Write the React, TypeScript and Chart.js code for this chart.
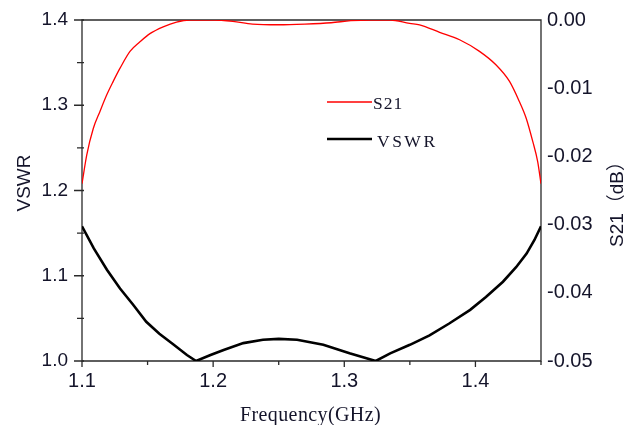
import React, { useEffect, useRef } from "react";
import { Chart, registerables } from "chart.js";

Chart.register(...registerables);

// ---- data ----
const vswrFreq = [
  1.100, 1.109, 1.119, 1.129, 1.139, 1.149, 1.159, 1.170, 1.180, 1.187,
  1.198, 1.208, 1.223, 1.238, 1.250, 1.264, 1.284, 1.304, 1.324,
  1.335, 1.350, 1.365, 1.380, 1.396, 1.408, 1.421, 1.431, 1.439, 1.445, 1.450,
];
const vswrValues = [
  1.158, 1.132, 1.107, 1.085, 1.066, 1.046, 1.032, 1.019, 1.007, 1.000,
  1.007, 1.013, 1.021, 1.025, 1.026, 1.025, 1.019, 1.009, 1.000,
  1.009, 1.019, 1.030, 1.044, 1.060, 1.075, 1.093, 1.110, 1.126, 1.142, 1.158,
];

const s21Freq = [
  1.100, 1.1036, 1.1086, 1.1137, 1.1188, 1.1238, 1.1289, 1.1366, 1.1442, 1.1518,
  1.1619, 1.1721, 1.182, 1.200, 1.215, 1.230, 1.250, 1.270, 1.290, 1.305,
  1.320, 1.335, 1.3498, 1.3574, 1.3727, 1.3879, 1.4031, 1.4158, 1.426, 1.4336,
  1.4387, 1.4437, 1.4475, 1.450,
];
const s21Values = [
  -0.0240, -0.0198, -0.0159, -0.0134, -0.0110, -0.0090, -0.0071, -0.0046, -0.0032, -0.0020,
  -0.0010, -0.0003, 0.0, 0.0, -0.0002, -0.0006, -0.0007, -0.0006, -0.0004, -0.0001,
  0.0, 0.0, -0.0005, -0.0007, -0.0018, -0.0029, -0.0046, -0.0066, -0.0090, -0.0120,
  -0.0144, -0.0178, -0.0208, -0.0240,
];

const xTickValues = [1.1, 1.2, 1.3, 1.4];
const xMinorTickValues = [1.15, 1.25, 1.35, 1.45];
const vswrTickValues = [1.0, 1.1, 1.2, 1.3, 1.4];
const vswrMinorTickValues = [1.05, 1.15, 1.25, 1.35];
const s21TickValues = [-0.05, -0.04, -0.03, -0.02, -0.01, 0.0];

const xTitle = "Frequency(GHz)";
const leftTitle = "VSWR";
const rightTitle = "S21（dB）";
const legendLabels = ["S21", "VSWR"];

const TEXT = "#14142a";
const AXIS = "#2a2a2a";
const SANS = "Arial, 'Liberation Sans', 'Noto Sans CJK SC', sans-serif";
const SERIF = "'Times New Roman', 'Liberation Serif', serif";

export default function App() {
  const ref = useRef<HTMLCanvasElement>(null);

  useEffect(() => {
    document.body.style.margin = "0";
    const canvas = ref.current!;
    const decor = {
      id: "decor",
      beforeDatasetsDraw(chart: any) {
        const c = chart.ctx as CanvasRenderingContext2D;
        const { left, right, top, bottom } = chart.chartArea;
        const xs = chart.scales.x;
        const yl = chart.scales.yL;
        c.save();
        c.strokeStyle = AXIS;
        c.lineWidth = 1.3;
        c.beginPath();
        c.rect(left, top, right - left, bottom - top);
        c.stroke();
        c.beginPath();
        vswrTickValues.forEach((v) => {
          const y = yl.getPixelForValue(v);
          c.moveTo(left - 8, y);
          c.lineTo(left + 2, y);
        });
        vswrMinorTickValues.forEach((v) => {
          const y = yl.getPixelForValue(v);
          c.moveTo(left - 5, y);
          c.lineTo(left + 2, y);
        });
        xTickValues.forEach((v) => {
          const x = xs.getPixelForValue(v);
          c.moveTo(x, bottom);
          c.lineTo(x, bottom + 6);
        });
        xMinorTickValues.forEach((v) => {
          const x = xs.getPixelForValue(v);
          c.moveTo(x, bottom);
          c.lineTo(x, bottom + 4);
        });
        c.stroke();
        c.restore();
      },
      afterDraw(chart: any) {
        const c = chart.ctx as CanvasRenderingContext2D;
        const { left, right } = chart.chartArea;
        c.save();
        c.fillStyle = TEXT;
        // x title
        c.font = `20px ${SERIF}`;
        (c as any).letterSpacing = "0.4px";
        c.textAlign = "center";
        c.textBaseline = "alphabetic";
        c.fillText(xTitle, (left + right) / 2 - 1, 421);
        (c as any).letterSpacing = "0px";
        // left title
        c.save();
        c.font = `19px ${SANS}`;
        c.translate(30, 183);
        c.rotate(-Math.PI / 2);
        c.textAlign = "center";
        c.textBaseline = "alphabetic";
        c.fillText(leftTitle, 0, 0);
        c.restore();
        // right title
        c.save();
        c.font = `19px ${SANS}`;
        c.translate(623, 247);
        c.rotate(-Math.PI / 2);
        c.textAlign = "left";
        c.textBaseline = "alphabetic";
        c.fillText(rightTitle, 0, 0);
        c.restore();
        // legend
        c.strokeStyle = "#ff0000";
        c.lineWidth = 1.3;
        c.beginPath();
        c.moveTo(327, 102);
        c.lineTo(372, 102);
        c.stroke();
        c.strokeStyle = "#000";
        c.lineWidth = 2.6;
        c.beginPath();
        c.moveTo(327, 139);
        c.lineTo(372, 139);
        c.stroke();
        c.font = `17.5px ${SERIF}`;
        c.textAlign = "left";
        (c as any).letterSpacing = "1px";
        c.fillText(legendLabels[0], 373, 109);
        (c as any).letterSpacing = "2.5px";
        c.fillText(legendLabels[1], 377, 146.5);
        (c as any).letterSpacing = "0px";
        c.restore();
      },
    };

    const fixV = (w: number) => (s: any) => {
      s.width = w;
      s.paddingTop = 0;
      s.paddingBottom = 0;
    };

    const chart = new Chart(canvas, {
      type: "line",
      data: {
        datasets: [
          {
            label: legendLabels[0],
            data: s21Freq.map((f, i) => ({ x: f, y: s21Values[i] })),
            yAxisID: "yR",
            borderColor: "#ff0000",
            borderWidth: 1.3,
            pointRadius: 0,
            cubicInterpolationMode: "monotone",
            fill: false,
          },
          {
            label: legendLabels[1],
            data: vswrFreq.map((f, i) => ({ x: f, y: vswrValues[i] })),
            yAxisID: "yL",
            borderColor: "#000000",
            borderWidth: 2.6,
            pointRadius: 0,
            tension: 0,
            fill: false,
          },
        ],
      },
      options: {
        responsive: false,
        animation: false,
        devicePixelRatio: 1,
        layout: { padding: { top: 20, left: 0, right: 0, bottom: 0 } },
        plugins: { legend: { display: false }, tooltip: { enabled: false } },
        scales: {
          x: {
            type: "linear",
            min: 1.1,
            max: 1.45,
            afterBuildTicks: (s: any) => {
              s.ticks = xTickValues.map((v) => ({ value: v }));
            },
            afterFit: (s: any) => {
              s.height = 64;
              s.paddingLeft = 0;
              s.paddingRight = 0;
            },
            grid: { display: false, drawTicks: false },
            border: { display: false },
            ticks: {
              autoSkip: false,
              maxRotation: 0,
              padding: 8,
              color: TEXT,
              font: { family: SANS, size: 20 },
              callback: (v: any) => Number(v).toFixed(1),
            },
          },
          yL: {
            type: "linear",
            position: "left",
            min: 1.0,
            max: 1.4,
            afterBuildTicks: (s: any) => {
              s.ticks = vswrTickValues.map((v) => ({ value: v }));
            },
            afterFit: fixV(82),
            grid: { display: false, drawTicks: false },
            border: { display: false },
            ticks: {
              padding: 14,
              color: TEXT,
              font: { family: SANS, size: 19 },
              callback: (v: any) => Number(v).toFixed(1),
            },
          },
          yR: {
            type: "linear",
            position: "right",
            min: -0.05,
            max: 0,
            afterBuildTicks: (s: any) => {
              s.ticks = s21TickValues.map((v) => ({ value: v }));
            },
            afterFit: fixV(93),
            grid: { display: false, drawTicks: false },
            border: { display: false },
            ticks: {
              padding: 6,
              color: TEXT,
              font: { family: SANS, size: 20 },
              callback: (v: any) => Number(v).toFixed(2),
            },
          },
        },
      },
      plugins: [decor],
    } as any);

    return () => chart.destroy();
  }, []);

  return (
    <div style={{ width: 634, height: 425, position: "relative", background: "#fff" }}>
      <canvas ref={ref} width={634} height={425} />
    </div>
  );
}
